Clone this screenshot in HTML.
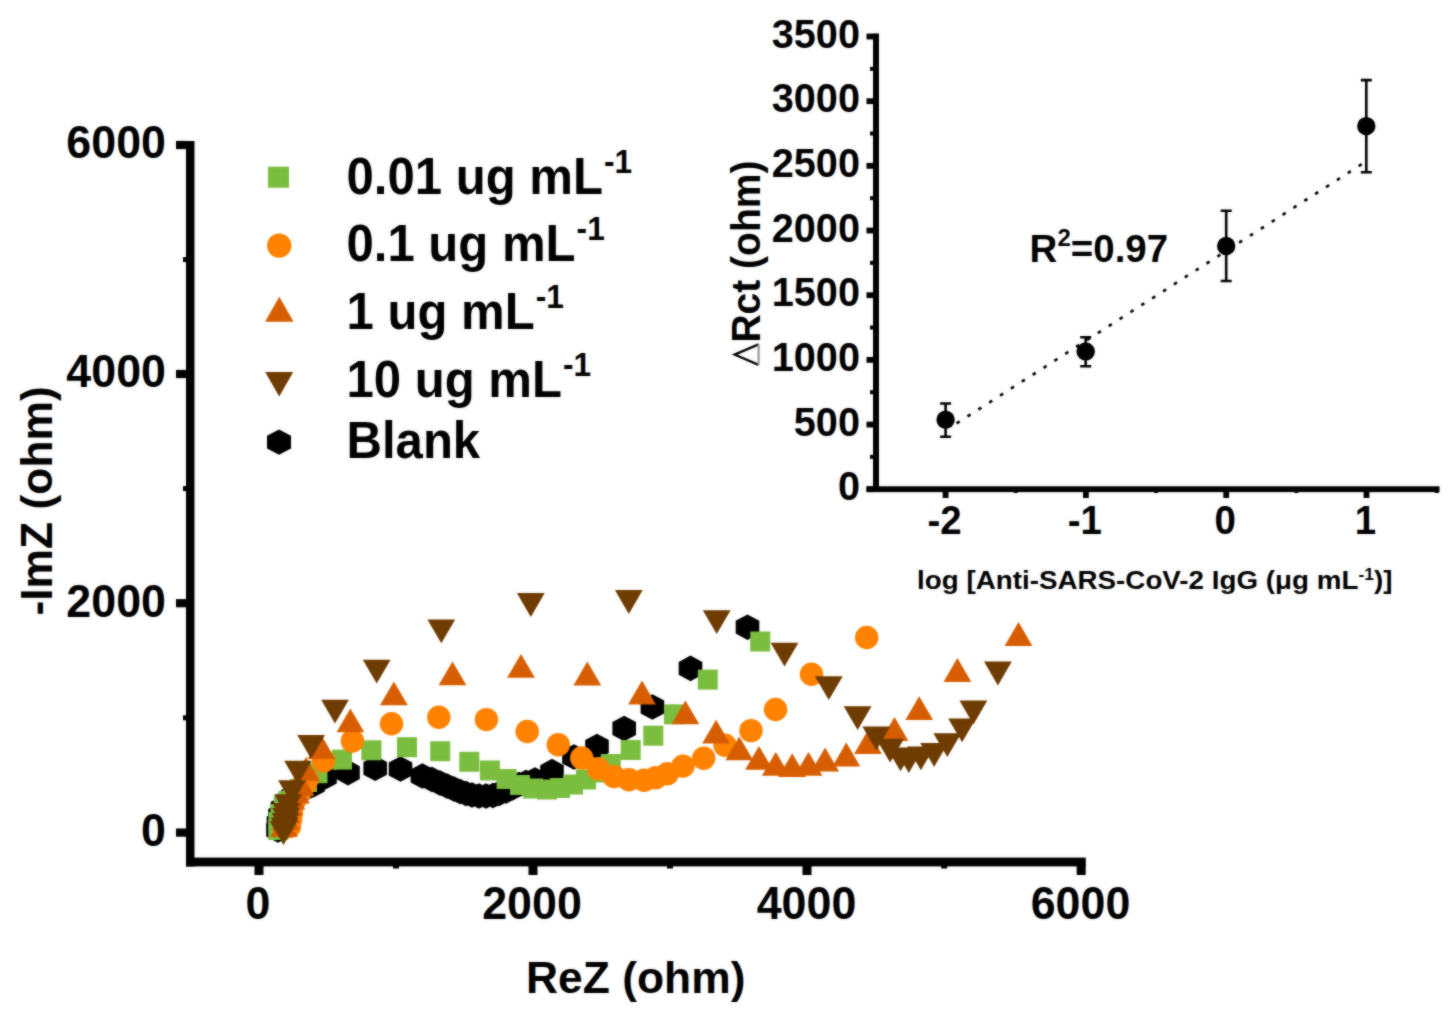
<!DOCTYPE html><html><head><meta charset="utf-8"><style>
html,body{margin:0;padding:0;background:#fff;width:1454px;height:1012px;overflow:hidden}
svg{display:block}#bl{filter:blur(0.8px)}text{font-family:"Liberation Sans",sans-serif;font-weight:bold;fill:#000}
</style></head><body>
<svg width="1454" height="1012" viewBox="0 0 1454 1012">
<defs><g id="c">
<rect width="1454" height="1012" fill="#fff"/>
<rect x="186" y="141" width="8.5" height="725.5" fill="#000"/>
<rect x="186" y="857.6" width="899.8" height="8.8" fill="#000"/>
<rect x="176" y="140.9" width="11" height="8.2" fill="#000"/>
<rect x="176" y="369.9" width="11" height="8.2" fill="#000"/>
<rect x="176" y="599.1" width="11" height="8.2" fill="#000"/>
<rect x="176" y="828.5" width="11" height="8.2" fill="#000"/>
<rect x="183" y="257.1" width="4" height="5" fill="#000"/>
<rect x="183" y="486.1" width="4" height="5" fill="#000"/>
<rect x="183" y="715.3" width="4" height="5" fill="#000"/>
<rect x="254.5" y="865" width="9" height="10" fill="#000"/>
<rect x="528.5" y="865" width="9" height="10" fill="#000"/>
<rect x="802.5" y="865" width="9" height="10" fill="#000"/>
<rect x="1076.7" y="865" width="9" height="10" fill="#000"/>
<rect x="393" y="865" width="6" height="3.5" fill="#000"/>
<rect x="667" y="865" width="6" height="3.5" fill="#000"/>
<rect x="941.2" y="865" width="6" height="3.5" fill="#000"/>
<text transform="translate(166 158.3) scale(1 1.04)" font-size="44.8" text-anchor="end">6000</text>
<text transform="translate(166 387.3) scale(1 1.04)" font-size="44.8" text-anchor="end">4000</text>
<text transform="translate(166 616.5) scale(1 1.04)" font-size="44.8" text-anchor="end">2000</text>
<text transform="translate(166 845.9) scale(1 1.04)" font-size="44.8" text-anchor="end">0</text>
<text transform="translate(258 919.2) scale(1 1.04)" font-size="44.8" text-anchor="middle">0</text>
<text transform="translate(532 919.2) scale(1 1.04)" font-size="44.8" text-anchor="middle">2000</text>
<text transform="translate(806.5 919.2) scale(1 1.04)" font-size="44.8" text-anchor="middle">4000</text>
<text transform="translate(1080.5 919.2) scale(1 1.04)" font-size="44.8" text-anchor="middle">6000</text>
<text transform="translate(526 992.8) scale(1 1)" font-size="44.4">ReZ (ohm)</text>
<text transform="translate(51.8 615.5) rotate(-90)" font-size="44.4">-ImZ (ohm)</text>
<path d="M268 166.7h21v21h-21z" fill="#7BBD3F"/>
<path d="M267 245.6a12.2 12.2 0 1 0 24.4 0a12.2 12.2 0 1 0 -24.4 0z" fill="#FF8200"/>
<path d="M279.3 296.7L293.5 321.7L265.1 321.7z" fill="#D75E00"/>
<path d="M265.2 371.9L293.2 371.9L279.2 396.5z" fill="#6E3B00"/>
<path d="M279 429.5L291 435.8L291 448.4L279 454.7L267 448.4L267 435.8z" fill="#000"/>
<text transform="translate(346.5 194) scale(1 1.05)" font-size="49.1">0.01 ug mL<tspan font-size="31.7" dy="-20" dx="1">-1</tspan></text>
<text transform="translate(346.5 260.7) scale(1 1.05)" font-size="49.1">0.1 ug mL<tspan font-size="31.7" dy="-20" dx="1">-1</tspan></text>
<text transform="translate(346.5 328.6) scale(1 1.05)" font-size="49.1">1 ug mL<tspan font-size="31.7" dy="-20" dx="1">-1</tspan></text>
<text transform="translate(346.5 396.5) scale(1 1.05)" font-size="49.1">10 ug mL<tspan font-size="31.7" dy="-20" dx="1">-1</tspan></text>
<text transform="translate(346.5 458.3) scale(1 1.05)" font-size="49.1">Blank</text>
<g >
<path d="M278 817.2L289.8 823.6L289.8 836.4L278 842.8L266.2 836.4L266.2 823.6z" fill="#000"/>
<path d="M278.5 810.2L290.3 816.6L290.3 829.4L278.5 835.8L266.7 829.4L266.7 816.6z" fill="#000"/>
<path d="M280 802.7L291.8 809.1L291.8 821.9L280 828.3L268.2 821.9L268.2 809.1z" fill="#000"/>
<path d="M282.5 795.7L294.3 802.1L294.3 814.9L282.5 821.3L270.7 814.9L270.7 802.1z" fill="#000"/>
<path d="M287 789.2L298.8 795.6L298.8 808.4L287 814.8L275.2 808.4L275.2 795.6z" fill="#000"/>
<path d="M293 783.7L304.8 790.1L304.8 802.9L293 809.3L281.2 802.9L281.2 790.1z" fill="#000"/>
<path d="M299.5 778.7L311.3 785.1L311.3 797.9L299.5 804.3L287.7 797.9L287.7 785.1z" fill="#000"/>
<path d="M306 775.2L317.8 781.6L317.8 794.4L306 800.8L294.2 794.4L294.2 781.6z" fill="#000"/>
<path d="M313 772.2L324.8 778.6L324.8 791.4L313 797.8L301.2 791.4L301.2 778.6z" fill="#000"/>
<path d="M325 764.2L336.8 770.6L336.8 783.4L325 789.8L313.2 783.4L313.2 770.6z" fill="#000"/>
<path d="M348 759.8L359.8 766.2L359.8 779L348 785.4L336.2 779L336.2 766.2z" fill="#000"/>
<path d="M375.2 755.5L387 761.9L387 774.7L375.2 781.1L363.4 774.7L363.4 761.9z" fill="#000"/>
<path d="M400.5 756.2L412.3 762.6L412.3 775.4L400.5 781.8L388.7 775.4L388.7 762.6z" fill="#000"/>
<path d="M422.4 763.2L434.2 769.6L434.2 782.4L422.4 788.8L410.6 782.4L410.6 769.6z" fill="#000"/>
<path d="M432 766.7L443.8 773.1L443.8 785.9L432 792.3L420.2 785.9L420.2 773.1z" fill="#000"/>
<path d="M440 770.2L451.8 776.6L451.8 789.4L440 795.8L428.2 789.4L428.2 776.6z" fill="#000"/>
<path d="M447 773.2L458.8 779.6L458.8 792.4L447 798.8L435.2 792.4L435.2 779.6z" fill="#000"/>
<path d="M454 776.2L465.8 782.6L465.8 795.4L454 801.8L442.2 795.4L442.2 782.6z" fill="#000"/>
<path d="M460 778.7L471.8 785.1L471.8 797.9L460 804.3L448.2 797.9L448.2 785.1z" fill="#000"/>
<path d="M466 780.7L477.8 787.1L477.8 799.9L466 806.3L454.2 799.9L454.2 787.1z" fill="#000"/>
<path d="M472 782.2L483.8 788.6L483.8 801.4L472 807.8L460.2 801.4L460.2 788.6z" fill="#000"/>
<path d="M479 783.2L490.8 789.6L490.8 802.4L479 808.8L467.2 802.4L467.2 789.6z" fill="#000"/>
<path d="M486 783.2L497.8 789.6L497.8 802.4L486 808.8L474.2 802.4L474.2 789.6z" fill="#000"/>
<path d="M493 782.7L504.8 789.1L504.8 801.9L493 808.3L481.2 801.9L481.2 789.1z" fill="#000"/>
<path d="M499 780.7L510.8 787.1L510.8 799.9L499 806.3L487.2 799.9L487.2 787.1z" fill="#000"/>
<path d="M506 778.2L517.8 784.6L517.8 797.4L506 803.8L494.2 797.4L494.2 784.6z" fill="#000"/>
<path d="M512 775.2L523.8 781.6L523.8 794.4L512 800.8L500.2 794.4L500.2 781.6z" fill="#000"/>
<path d="M519 771.7L530.8 778.1L530.8 790.9L519 797.3L507.2 790.9L507.2 778.1z" fill="#000"/>
<path d="M526 769.7L537.8 776.1L537.8 788.9L526 795.3L514.2 788.9L514.2 776.1z" fill="#000"/>
<path d="M535 767.2L546.8 773.6L546.8 786.4L535 792.8L523.2 786.4L523.2 773.6z" fill="#000"/>
<path d="M552 758.8L563.8 765.2L563.8 778L552 784.4L540.2 778L540.2 765.2z" fill="#000"/>
<path d="M574 744.2L585.8 750.6L585.8 763.4L574 769.8L562.2 763.4L562.2 750.6z" fill="#000"/>
<path d="M597 733.7L608.8 740.1L608.8 752.9L597 759.3L585.2 752.9L585.2 740.1z" fill="#000"/>
<path d="M624.2 715.7L636 722.1L636 734.9L624.2 741.3L612.4 734.9L612.4 722.1z" fill="#000"/>
<path d="M652.4 694.2L664.2 700.6L664.2 713.4L652.4 719.8L640.6 713.4L640.6 700.6z" fill="#000"/>
<path d="M690.5 655.6L702.3 662L702.3 674.8L690.5 681.2L678.7 674.8L678.7 662z" fill="#000"/>
<path d="M747.5 614.4L759.3 620.8L759.3 633.6L747.5 640L735.7 633.6L735.7 620.8z" fill="#000"/>
<path d="M268.3 820h20v20h-20z" fill="#7BBD3F"/>
<path d="M268.5 812h20v20h-20z" fill="#7BBD3F"/>
<path d="M270.5 804h20v20h-20z" fill="#7BBD3F"/>
<path d="M273.8 796h20v20h-20z" fill="#7BBD3F"/>
<path d="M278.5 791h20v20h-20z" fill="#7BBD3F"/>
<path d="M283 785h20v20h-20z" fill="#7BBD3F"/>
<path d="M290 779h20v20h-20z" fill="#7BBD3F"/>
<path d="M297 772h20v20h-20z" fill="#7BBD3F"/>
<path d="M307.5 763.2h20v20h-20z" fill="#7BBD3F"/>
<path d="M332 749.6h20v20h-20z" fill="#7BBD3F"/>
<path d="M361.4 740.3h20v20h-20z" fill="#7BBD3F"/>
<path d="M397 737.2h20v20h-20z" fill="#7BBD3F"/>
<path d="M430.2 741.2h20v20h-20z" fill="#7BBD3F"/>
<path d="M459.3 751.8h20v20h-20z" fill="#7BBD3F"/>
<path d="M479.9 760.5h20v20h-20z" fill="#7BBD3F"/>
<path d="M496.6 769h20v20h-20z" fill="#7BBD3F"/>
<path d="M510 775h20v20h-20z" fill="#7BBD3F"/>
<path d="M523 778.5h20v20h-20z" fill="#7BBD3F"/>
<path d="M537 779.5h20v20h-20z" fill="#7BBD3F"/>
<path d="M550 778h20v20h-20z" fill="#7BBD3F"/>
<path d="M563 774.5h20v20h-20z" fill="#7BBD3F"/>
<path d="M576 769.5h20v20h-20z" fill="#7BBD3F"/>
<path d="M587.5 762.5h20v20h-20z" fill="#7BBD3F"/>
<path d="M600.8 754h20v20h-20z" fill="#7BBD3F"/>
<path d="M620.7 740h20v20h-20z" fill="#7BBD3F"/>
<path d="M643.3 725.7h20v20h-20z" fill="#7BBD3F"/>
<path d="M663.9 704.3h20v20h-20z" fill="#7BBD3F"/>
<path d="M697.8 669.6h20v20h-20z" fill="#7BBD3F"/>
<path d="M750.2 631.5h20v20h-20z" fill="#7BBD3F"/>
<path d="M277.8 826.5a11.7 11.7 0 1 0 23.4 0a11.7 11.7 0 1 0 -23.4 0z" fill="#FF8200"/>
<path d="M278.8 820a11.7 11.7 0 1 0 23.4 0a11.7 11.7 0 1 0 -23.4 0z" fill="#FF8200"/>
<path d="M279.8 813a11.7 11.7 0 1 0 23.4 0a11.7 11.7 0 1 0 -23.4 0z" fill="#FF8200"/>
<path d="M280.8 805.5a11.7 11.7 0 1 0 23.4 0a11.7 11.7 0 1 0 -23.4 0z" fill="#FF8200"/>
<path d="M284.3 798a11.7 11.7 0 1 0 23.4 0a11.7 11.7 0 1 0 -23.4 0z" fill="#FF8200"/>
<path d="M288.8 791a11.7 11.7 0 1 0 23.4 0a11.7 11.7 0 1 0 -23.4 0z" fill="#FF8200"/>
<path d="M293.3 784a11.7 11.7 0 1 0 23.4 0a11.7 11.7 0 1 0 -23.4 0z" fill="#FF8200"/>
<path d="M295.3 779.3a11.7 11.7 0 1 0 23.4 0a11.7 11.7 0 1 0 -23.4 0z" fill="#FF8200"/>
<path d="M311.8 761a11.7 11.7 0 1 0 23.4 0a11.7 11.7 0 1 0 -23.4 0z" fill="#FF8200"/>
<path d="M340.7 741.1a11.7 11.7 0 1 0 23.4 0a11.7 11.7 0 1 0 -23.4 0z" fill="#FF8200"/>
<path d="M379.8 723.8a11.7 11.7 0 1 0 23.4 0a11.7 11.7 0 1 0 -23.4 0z" fill="#FF8200"/>
<path d="M427.1 717.2a11.7 11.7 0 1 0 23.4 0a11.7 11.7 0 1 0 -23.4 0z" fill="#FF8200"/>
<path d="M474.7 719.6a11.7 11.7 0 1 0 23.4 0a11.7 11.7 0 1 0 -23.4 0z" fill="#FF8200"/>
<path d="M515.5 731.5a11.7 11.7 0 1 0 23.4 0a11.7 11.7 0 1 0 -23.4 0z" fill="#FF8200"/>
<path d="M546.6 744.8a11.7 11.7 0 1 0 23.4 0a11.7 11.7 0 1 0 -23.4 0z" fill="#FF8200"/>
<path d="M570 758a11.7 11.7 0 1 0 23.4 0a11.7 11.7 0 1 0 -23.4 0z" fill="#FF8200"/>
<path d="M586.5 768.8a11.7 11.7 0 1 0 23.4 0a11.7 11.7 0 1 0 -23.4 0z" fill="#FF8200"/>
<path d="M602.3 776.5a11.7 11.7 0 1 0 23.4 0a11.7 11.7 0 1 0 -23.4 0z" fill="#FF8200"/>
<path d="M617.3 779.8a11.7 11.7 0 1 0 23.4 0a11.7 11.7 0 1 0 -23.4 0z" fill="#FF8200"/>
<path d="M632.5 780.3a11.7 11.7 0 1 0 23.4 0a11.7 11.7 0 1 0 -23.4 0z" fill="#FF8200"/>
<path d="M644 777.8a11.7 11.7 0 1 0 23.4 0a11.7 11.7 0 1 0 -23.4 0z" fill="#FF8200"/>
<path d="M655.6 773.7a11.7 11.7 0 1 0 23.4 0a11.7 11.7 0 1 0 -23.4 0z" fill="#FF8200"/>
<path d="M671.3 766.1a11.7 11.7 0 1 0 23.4 0a11.7 11.7 0 1 0 -23.4 0z" fill="#FF8200"/>
<path d="M692 758.2a11.7 11.7 0 1 0 23.4 0a11.7 11.7 0 1 0 -23.4 0z" fill="#FF8200"/>
<path d="M713.3 745.3a11.7 11.7 0 1 0 23.4 0a11.7 11.7 0 1 0 -23.4 0z" fill="#FF8200"/>
<path d="M739.3 730.6a11.7 11.7 0 1 0 23.4 0a11.7 11.7 0 1 0 -23.4 0z" fill="#FF8200"/>
<path d="M763.9 709.5a11.7 11.7 0 1 0 23.4 0a11.7 11.7 0 1 0 -23.4 0z" fill="#FF8200"/>
<path d="M799.8 674.2a11.7 11.7 0 1 0 23.4 0a11.7 11.7 0 1 0 -23.4 0z" fill="#FF8200"/>
<path d="M855 637.5a11.7 11.7 0 1 0 23.4 0a11.7 11.7 0 1 0 -23.4 0z" fill="#FF8200"/>
<path d="M284 813.1L297.9 836.9L270.1 836.9z" fill="#D75E00"/>
<path d="M285.5 806.1L299.4 829.9L271.6 829.9z" fill="#D75E00"/>
<path d="M286.5 799.1L300.4 822.9L272.6 822.9z" fill="#D75E00"/>
<path d="M288.5 792.1L302.4 815.9L274.6 815.9z" fill="#D75E00"/>
<path d="M291.5 785.6L305.4 809.4L277.6 809.4z" fill="#D75E00"/>
<path d="M296 779.6L309.9 803.4L282.1 803.4z" fill="#D75E00"/>
<path d="M300.5 772.1L314.4 795.9L286.6 795.9z" fill="#D75E00"/>
<path d="M306 757.1L319.9 780.9L292.1 780.9z" fill="#D75E00"/>
<path d="M321.3 735.1L335.2 758.9L307.4 758.9z" fill="#D75E00"/>
<path d="M350.4 708.5L364.3 732.3L336.5 732.3z" fill="#D75E00"/>
<path d="M393.9 681.4L407.8 705.2L380 705.2z" fill="#D75E00"/>
<path d="M452.5 661.4L466.4 685.2L438.6 685.2z" fill="#D75E00"/>
<path d="M521 653.9L534.9 677.7L507.1 677.7z" fill="#D75E00"/>
<path d="M587.3 661.6L601.2 685.4L573.4 685.4z" fill="#D75E00"/>
<path d="M642 680.6L655.9 704.4L628.1 704.4z" fill="#D75E00"/>
<path d="M685.4 700.5L699.3 724.3L671.5 724.3z" fill="#D75E00"/>
<path d="M716.1 719.7L730 743.5L702.2 743.5z" fill="#D75E00"/>
<path d="M739.3 736.5L753.2 760.3L725.4 760.3z" fill="#D75E00"/>
<path d="M759 745.9L772.9 769.7L745.1 769.7z" fill="#D75E00"/>
<path d="M775.8 751.9L789.7 775.7L761.9 775.7z" fill="#D75E00"/>
<path d="M792.2 753.3L806.1 777.1L778.3 777.1z" fill="#D75E00"/>
<path d="M808.5 751.9L822.4 775.7L794.6 775.7z" fill="#D75E00"/>
<path d="M825.1 747.6L839 771.4L811.2 771.4z" fill="#D75E00"/>
<path d="M846.3 742.6L860.2 766.4L832.4 766.4z" fill="#D75E00"/>
<path d="M868 730.1L881.9 753.9L854.1 753.9z" fill="#D75E00"/>
<path d="M894.5 717.1L908.4 740.9L880.6 740.9z" fill="#D75E00"/>
<path d="M919.2 696.2L933.1 720L905.3 720z" fill="#D75E00"/>
<path d="M957.4 658.1L971.3 681.9L943.5 681.9z" fill="#D75E00"/>
<path d="M1018.5 622.1L1032.4 645.9L1004.6 645.9z" fill="#D75E00"/>
<path d="M269.6 821.1L297.4 821.1L283.5 844.9z" fill="#6E3B00"/>
<path d="M270.6 817.6L298.4 817.6L284.5 841.4z" fill="#6E3B00"/>
<path d="M271.6 813.1L299.4 813.1L285.5 836.9z" fill="#6E3B00"/>
<path d="M272.1 808.1L299.9 808.1L286 831.9z" fill="#6E3B00"/>
<path d="M272.4 803.1L300.2 803.1L286.3 826.9z" fill="#6E3B00"/>
<path d="M274.1 794.3L301.9 794.3L288 818.1z" fill="#6E3B00"/>
<path d="M278.1 780.3L305.9 780.3L292 804.1z" fill="#6E3B00"/>
<path d="M284.1 760.7L311.9 760.7L298 784.5z" fill="#6E3B00"/>
<path d="M297.2 735L325 735L311.1 758.8z" fill="#6E3B00"/>
<path d="M321.1 699.8L348.9 699.8L335 723.6z" fill="#6E3B00"/>
<path d="M362.8 659.8L390.6 659.8L376.7 683.6z" fill="#6E3B00"/>
<path d="M427.4 619.4L455.2 619.4L441.3 643.2z" fill="#6E3B00"/>
<path d="M516.9 593.1L544.7 593.1L530.8 616.9z" fill="#6E3B00"/>
<path d="M614.9 590.1L642.7 590.1L628.8 613.9z" fill="#6E3B00"/>
<path d="M702.8 610.3L730.6 610.3L716.7 634.1z" fill="#6E3B00"/>
<path d="M770.6 642.7L798.4 642.7L784.5 666.5z" fill="#6E3B00"/>
<path d="M814.9 676.3L842.7 676.3L828.8 700.1z" fill="#6E3B00"/>
<path d="M843.7 706.3L871.5 706.3L857.6 730.1z" fill="#6E3B00"/>
<path d="M862.4 726.6L890.2 726.6L876.3 750.4z" fill="#6E3B00"/>
<path d="M876.2 738.7L904 738.7L890.1 762.5z" fill="#6E3B00"/>
<path d="M886.6 747.5L914.4 747.5L900.5 771.3z" fill="#6E3B00"/>
<path d="M894.9 749.2L922.7 749.2L908.8 773z" fill="#6E3B00"/>
<path d="M907 746.4L934.8 746.4L920.9 770.2z" fill="#6E3B00"/>
<path d="M920.2 743.1L948 743.1L934.1 766.9z" fill="#6E3B00"/>
<path d="M933.4 733.2L961.2 733.2L947.3 757z" fill="#6E3B00"/>
<path d="M948.2 718.4L976 718.4L962.1 742.2z" fill="#6E3B00"/>
<path d="M959.5 700.6L987.3 700.6L973.4 724.4z" fill="#6E3B00"/>
<path d="M984 661.6L1011.8 661.6L997.9 685.4z" fill="#6E3B00"/>
</g>
<rect x="873" y="33.4" width="6" height="458.6" fill="#000"/>
<rect x="866.5" y="486.3" width="573" height="5.8" fill="#000"/>
<rect x="866.5" y="486.3" width="7" height="5.8" fill="#000"/>
<text transform="translate(860 500.2) scale(1 1.04)" font-size="39.7" text-anchor="end">0</text>
<rect x="866.5" y="421.63" width="7" height="5.8" fill="#000"/>
<text transform="translate(860 435.53) scale(1 1.04)" font-size="39.7" text-anchor="end">500</text>
<rect x="866.5" y="356.96" width="7" height="5.8" fill="#000"/>
<text transform="translate(860 370.86) scale(1 1.04)" font-size="39.7" text-anchor="end">1000</text>
<rect x="866.5" y="292.29" width="7" height="5.8" fill="#000"/>
<text transform="translate(860 306.19) scale(1 1.04)" font-size="39.7" text-anchor="end">1500</text>
<rect x="866.5" y="227.62" width="7" height="5.8" fill="#000"/>
<text transform="translate(860 241.52) scale(1 1.04)" font-size="39.7" text-anchor="end">2000</text>
<rect x="866.5" y="162.95" width="7" height="5.8" fill="#000"/>
<text transform="translate(860 176.85) scale(1 1.04)" font-size="39.7" text-anchor="end">2500</text>
<rect x="866.5" y="98.28" width="7" height="5.8" fill="#000"/>
<text transform="translate(860 112.18) scale(1 1.04)" font-size="39.7" text-anchor="end">3000</text>
<rect x="866.5" y="33.61" width="7" height="5.8" fill="#000"/>
<text transform="translate(860 47.51) scale(1 1.04)" font-size="39.7" text-anchor="end">3500</text>
<rect x="870" y="454.87" width="3.5" height="4" fill="#000"/>
<rect x="870" y="390.2" width="3.5" height="4" fill="#000"/>
<rect x="870" y="325.53" width="3.5" height="4" fill="#000"/>
<rect x="870" y="260.86" width="3.5" height="4" fill="#000"/>
<rect x="870" y="196.19" width="3.5" height="4" fill="#000"/>
<rect x="870" y="131.52" width="3.5" height="4" fill="#000"/>
<rect x="870" y="66.85" width="3.5" height="4" fill="#000"/>
<rect x="942.7" y="491" width="5.8" height="7" fill="#000"/>
<text transform="translate(944.6 534) scale(1 1.04)" font-size="38.5" text-anchor="middle">-2</text>
<rect x="1083" y="491" width="5.8" height="7" fill="#000"/>
<text transform="translate(1084.9 534) scale(1 1.04)" font-size="38.5" text-anchor="middle">-1</text>
<rect x="1223.3" y="491" width="5.8" height="7" fill="#000"/>
<text transform="translate(1225.2 534) scale(1 1.04)" font-size="38.5" text-anchor="middle">0</text>
<rect x="1363.6" y="491" width="5.8" height="7" fill="#000"/>
<text transform="translate(1365.5 534) scale(1 1.04)" font-size="38.5" text-anchor="middle">1</text>
<rect x="1013.75" y="491" width="4" height="2" fill="#000"/>
<rect x="1154.05" y="491" width="4" height="2" fill="#000"/>
<rect x="1294.35" y="491" width="4" height="2" fill="#000"/>
<rect x="1434.8" y="491" width="4" height="2" fill="#000"/>
<line x1="956.6" y1="423.4" x2="1362.4" y2="163.8" stroke="#000" stroke-width="2.7" stroke-dasharray="3.6 9.3"/>
<path d="M945.6 403.5V436.7M940.1 403.5h11M940.1 436.7h11" stroke="#000" stroke-width="2.6" fill="none"/>
<circle cx="945.6" cy="419.7" r="9.2" fill="#000"/>
<path d="M1085.7 337.3V366.2M1080.2 337.3h11M1080.2 366.2h11" stroke="#000" stroke-width="2.6" fill="none"/>
<circle cx="1085.7" cy="351.4" r="9.2" fill="#000"/>
<path d="M1226.2 210.8V281M1220.7 210.8h11M1220.7 281h11" stroke="#000" stroke-width="2.6" fill="none"/>
<circle cx="1226.2" cy="246" r="9.2" fill="#000"/>
<path d="M1366.3 80.1V172.3M1360.8 80.1h11M1360.8 172.3h11" stroke="#000" stroke-width="2.6" fill="none"/>
<circle cx="1366.3" cy="126.1" r="9.2" fill="#000"/>
<text x="1029.6" y="262.2" font-size="38.5">R<tspan font-size="24" dy="-16.6">2</tspan><tspan dy="16.6">=0.97</tspan></text>
<text transform="translate(759.6 342.6) rotate(-90) scale(1 1.04)" font-size="39.5" textLength="182" lengthAdjust="spacingAndGlyphs">Rct (ohm)</text>
<path d="M758.6 344.4L734.6 354.6L758.6 364.9" stroke="#000" stroke-width="2.3" fill="none" stroke-linejoin="miter"/>
<path d="M758.6 344.4V364.9" stroke="#9a9a9a" stroke-width="2.2" fill="none"/>
<text x="917" y="589.2" font-size="25.4" textLength="475.5" lengthAdjust="spacingAndGlyphs">log [Anti-SARS-CoV-2 IgG (μg mL<tspan font-size="16" dy="-9">-1</tspan><tspan dy="9">)]</tspan></text>
</g></defs>
<use href="#c"/>
<use id="bl" href="#c" opacity="0.5"/>
</svg></body></html>
